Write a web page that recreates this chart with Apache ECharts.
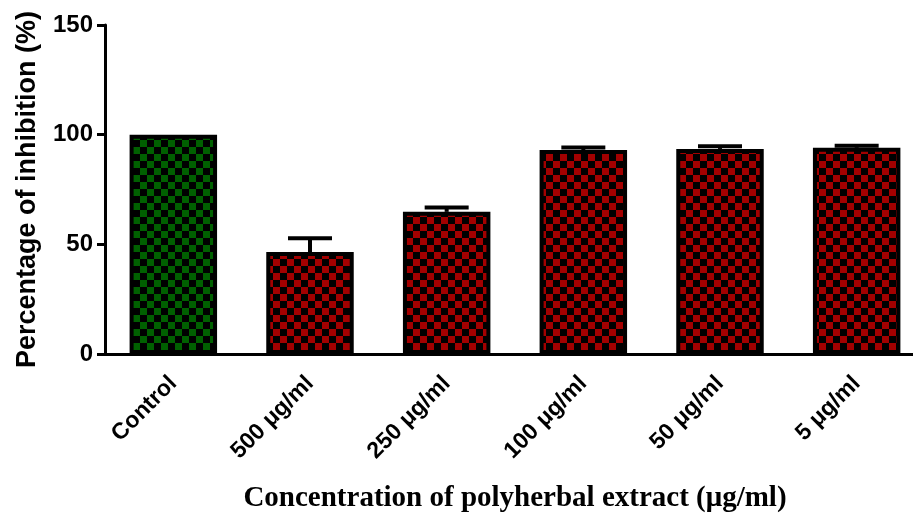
<!DOCTYPE html>
<html>
<head>
<meta charset="utf-8">
<script src="https://cdn.jsdelivr.net/npm/echarts@6/dist/echarts.min.js"></script>
<style>html,body{margin:0;padding:0;background:#fff;overflow:hidden}#wrap{width:913px;height:518px;overflow:hidden;position:relative}#c{width:926px;height:518px;position:absolute;left:0;top:0}</style>
</head>
<body>
<div id="wrap"><div id="c"></div></div>
<script>
// Data
var categories = ['Control', '500 μg/ml', '250 μg/ml', '100 μg/ml', '50 μg/ml', '5 μg/ml'];
var meanValues = [100, 46.5, 64.8, 93.0, 93.5, 94.0];
var semValues = [0, 6.3, 2.0, 1.2, 1.2, 1.0];
var yTicks = [0, 50, 100, 150];
var yTitle = 'Percentage of inhibition (%)';
var xTitle = 'Concentration of polyherbal extract (μg/ml)';

function checker(col) {
  var s = 7;
  var c = document.createElement('canvas');
  c.width = 2 * s; c.height = 2 * s;
  var g = c.getContext('2d');
  g.fillStyle = '#000'; g.fillRect(0, 0, 2 * s, 2 * s);
  g.fillStyle = col;
  g.fillRect(0, 0, s, s);
  g.fillRect(s, s, s, s);
  return { image: c, repeat: 'repeat' };
}
var greenPat = checker('#006000');
var redPat = checker('#a30000');

var barData = meanValues.map(function (v, i) {
  return { value: v, itemStyle: { color: i === 0 ? greenPat : redPat } };
});
var errData = meanValues.map(function (v, i) {
  return [i, v + semValues[i], v, semValues[i]];
});

var chart = echarts.init(document.getElementById('c'), null, { renderer: 'canvas' });
chart.setOption({
  animation: false,
  backgroundColor: '#fff',
  grid: { left: 105, right: 1, top: 25, bottom: 158, containLabel: false },
  xAxis: {
    type: 'category',
    data: categories,
    axisLine: { lineStyle: { color: '#000', width: 3 } },
    axisTick: { alignWithLabel: true, length: 8, lineStyle: { color: '#000', width: 3 } },
    axisLabel: {
      rotate: 45, margin: 26, color: '#000',
      fontFamily: 'Liberation Sans, Arial, sans-serif', fontWeight: 'bold', fontSize: 23
    },
    name: xTitle,
    nameLocation: 'middle',
    nameGap: 130,
    nameTextStyle: {
      color: '#000', fontFamily: 'Liberation Serif, Times New Roman, serif',
      fontWeight: 'bold', fontSize: 29
    }
  },
  yAxis: {
    type: 'value',
    min: yTicks[0], max: yTicks[yTicks.length - 1], interval: 50,
    splitLine: { show: false },
    axisLine: { show: true, lineStyle: { color: '#000', width: 3 } },
    axisTick: { show: true, length: 8, lineStyle: { color: '#000', width: 3 } },
    axisLabel: {
      margin: 12, color: '#000',
      fontFamily: 'Liberation Sans, Arial, sans-serif', fontWeight: 'bold', fontSize: 24
    },
    name: yTitle,
    nameLocation: 'middle',
    nameGap: 64,
    nameTextStyle: {
      color: '#000', fontFamily: 'Liberation Sans, Arial, sans-serif',
      fontWeight: 'bold', fontSize: 27
    }
  },
  series: [
    {
      type: 'bar',
      data: barData,
      barWidth: '64%',
      itemStyle: { borderColor: '#000', borderWidth: 4 },
      z: 2
    },
    {
      type: 'custom',
      data: errData,
      z: 3,
      renderItem: function (params, api) {
        if (api.value(3) <= 0) return null;
        var top = api.coord([api.value(0), api.value(1)]);
        var base = api.coord([api.value(0), api.value(2)]);
        var half = 22;
        return {
          type: 'group',
          children: [
            { type: 'line', shape: { x1: top[0], y1: top[1], x2: base[0], y2: base[1] },
              style: { stroke: '#000', lineWidth: 4 } },
            { type: 'line', shape: { x1: top[0] - half, y1: top[1], x2: top[0] + half, y2: top[1] },
              style: { stroke: '#000', lineWidth: 4 } }
          ]
        };
      }
    }
  ]
});
</script>
</body>
</html>
